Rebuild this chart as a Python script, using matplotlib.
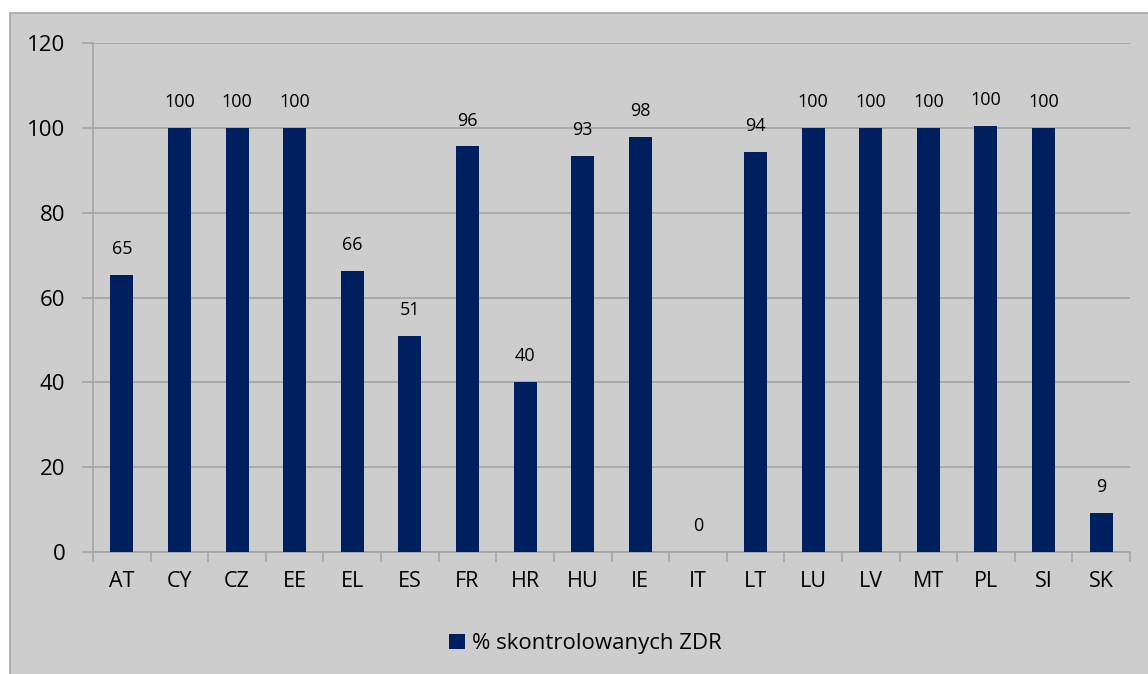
import numpy as np
import matplotlib.pyplot as plt
from matplotlib.patches import Rectangle

# Data
countries = ['AT', 'CY', 'CZ', 'EE', 'EL', 'ES', 'FR', 'HR', 'HU',
             'IE', 'IT', 'LT', 'LU', 'LV', 'MT', 'PL', 'SI', 'SK']
values = [65.2, 100, 100, 100, 66.2, 50.9, 95.6, 40.0, 93.3,
          97.8, 0, 94.4, 100, 100, 100, 100.5, 100, 9.2]
series_name = '% skontrolowanych ZDR'
y_ticks = [0, 20, 40, 60, 80, 100, 120]

plt.rcParams['font.family'] = ['Open Sans', 'DejaVu Sans']

bg = '#cdcdcd'
bar_color = '#001f5f'
grid_color = '#a3a3a3'

fig = plt.figure(figsize=(11.48, 6.74), dpi=100)
fig.patch.set_facecolor('white')

# chart area frame (drawn behind the axes)
frame = Rectangle((10 / 1148, -0.01), 1.0, 1 - 13 / 674 + 0.01,
                  transform=fig.transFigure, facecolor=bg,
                  edgecolor='#a8a8a8', linewidth=1.2, zorder=-10)
fig.add_artist(frame)

ax = fig.add_axes([93 / 1148, 1 - 552 / 674, (1130 - 93) / 1148, (552 - 43) / 674])
ax.patch.set_alpha(0)

x = np.arange(len(countries))
bars = ax.bar(x, values, width=0.4, color=bar_color, zorder=3, label=series_name)

for xi, v in zip(x, values):
    ax.text(xi, v + 4, f'{round(v):d}', ha='center', va='bottom', fontsize=13, color='black')

ax.set_xlim(-0.5, len(countries) - 0.5)
ax.set_ylim(0, 120)
ax.set_yticks(y_ticks)
ax.yaxis.grid(True, color=grid_color, linewidth=1.2, zorder=0)
ax.set_axisbelow(True)

ax.set_xticks(x)
ax.set_xticklabels(countries, fontsize=15.5)
ax.set_xticks(np.arange(-0.5, len(countries)), minor=True)
ax.tick_params(axis='x', which='major', length=0, pad=14)
ax.tick_params(axis='x', which='minor', length=7, color=grid_color, width=1.2)
ax.tick_params(axis='y', length=8, color=grid_color, width=1.2, labelsize=16, pad=12)

for s in ['top', 'right']:
    ax.spines[s].set_visible(False)
ax.spines['left'].set_color(grid_color)
ax.spines['bottom'].set_color(grid_color)
ax.spines['left'].set_linewidth(1.2)
ax.spines['bottom'].set_linewidth(1.2)

fig.legend(handles=[bars], labels=[series_name], loc='center', bbox_to_anchor=(0.510, 0.045),
           frameon=False, fontsize=16, handlelength=0.7, handleheight=0.7, handletextpad=0.3)

fig.savefig('out.png', dpi=100, facecolor=fig.get_facecolor())
